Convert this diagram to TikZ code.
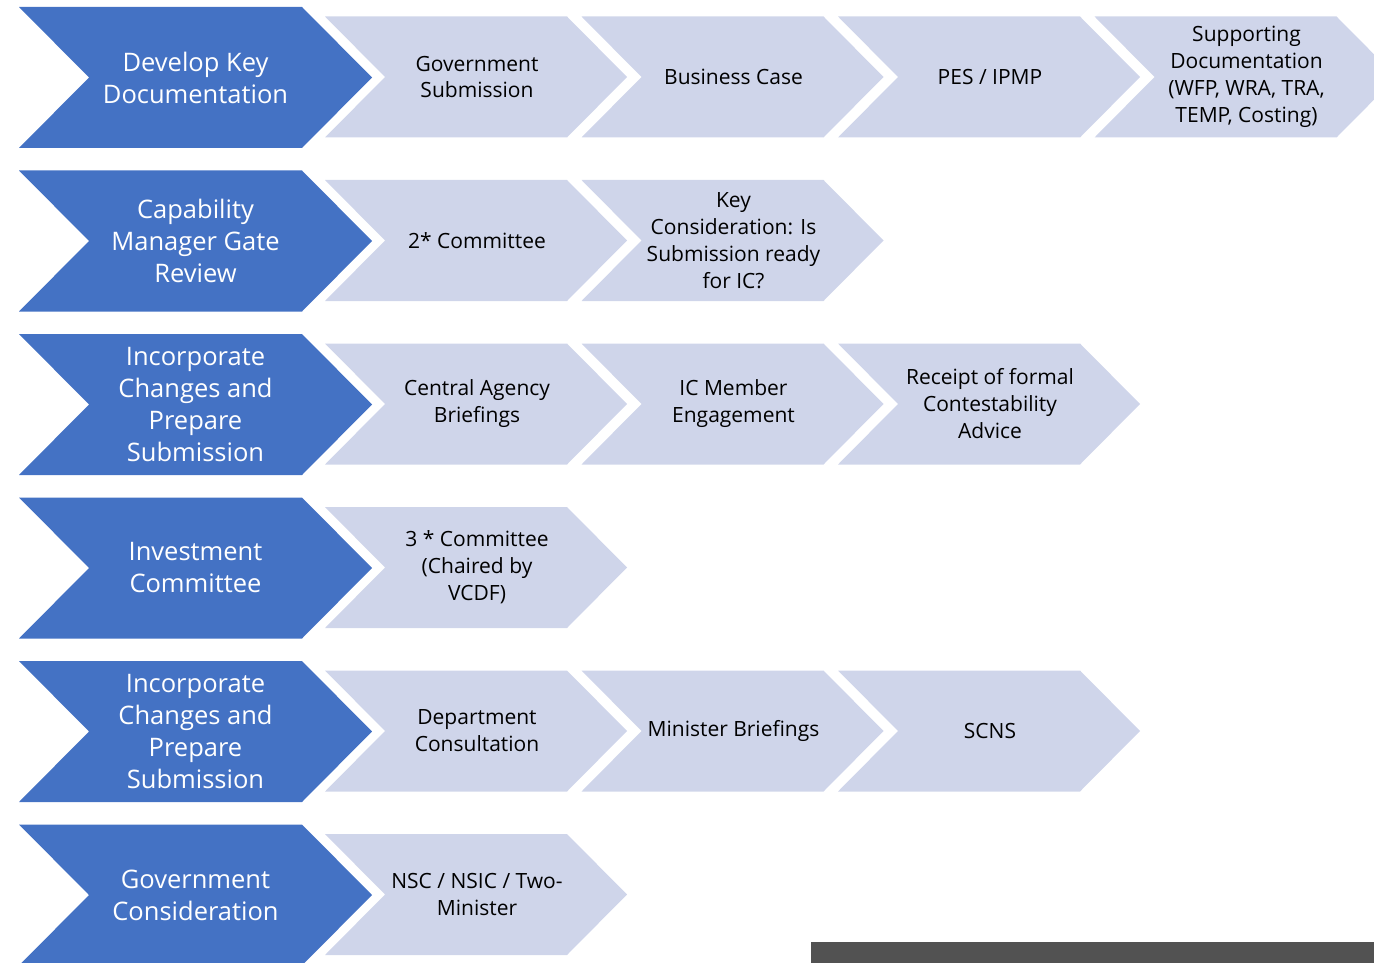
\documentclass[tikz,border=0pt]{standalone}
\usepackage{fontspec}
\setmainfont{Open Sans}
\definecolor{chevblue}{HTML}{4472C4}
\definecolor{chevlight}{HTML}{CFD5EA}
\definecolor{bargray}{HTML}{525252}
\tikzset{
  bluefill/.style={fill=chevblue},
  lightfill/.style={fill=chevlight},
  bluetext/.style={text=white, align=center, font=\fontsize{25.5}{32}\selectfont, inner sep=0pt},
  lighttext/.style={text=black, align=center, font=\fontsize{21}{27}\selectfont, inner sep=0pt},
}
\newcommand\bluechev[3]{%
  \fill[bluefill] (19,#1) -- (302,#1) -- (372,{#1+70.5}) -- (302,{#1+141}) -- (19,{#1+141}) -- (89,{#1+70.5}) -- cycle;
  \node[bluetext] (#2) at (195.5,{#1+70.5}) {#3};}
\newcommand\lightchev[4]{%
  \fill[lightfill] (#1,#2) -- ({#1+242},#2) -- ({#1+302},{#2+60.5}) -- ({#1+242},{#2+121}) -- (#1,{#2+121}) -- ({#1+60},{#2+60.5}) -- cycle;
  \node[lighttext] (#3) at ({#1+152},{#2+60.5}) {#4};}
\begin{document}
\begin{tikzpicture}[x=1pt,y=-1pt]
\useasboundingbox (0,0) rectangle (1374,963);
\clip (0,0) rectangle (1374,963);
% Row 1
\bluechev{7}{b1}{Develop Key\\Documentation}
\lightchev{325}{16.5}{l11}{Government\\Submission}
\lightchev{581.5}{16.5}{l12}{Business Case}
\lightchev{838}{16.5}{l13}{PES / IPMP}
\lightchev{1094.5}{16.5}{l14}{Supporting\\Documentation\\(WFP, WRA, TRA,\\TEMP, Costing)}
% Row 2
\bluechev{170.5}{b2}{Capability\\Manager Gate\\Review}
\lightchev{325}{180}{l21}{2* Committee}
\lightchev{581.5}{180}{l22}{Key\\Consideration: Is\\Submission ready\\for IC?}
% Row 3
\bluechev{334}{b3}{Incorporate\\Changes and\\Prepare\\Submission}
\lightchev{325}{343.5}{l31}{Central Agency\\Briefings}
\lightchev{581.5}{343.5}{l32}{IC Member\\Engagement}
\lightchev{838}{343.5}{l33}{Receipt of formal\\Contestability\\Advice}
% Row 4
\bluechev{497.5}{b4}{Investment\\Committee}
\lightchev{325}{507}{l41}{3 * Committee\\(Chaired by\\VCDF)}
% Row 5
\bluechev{661}{b5}{Incorporate\\Changes and\\Prepare\\Submission}
\lightchev{325}{670.5}{l51}{Department\\Consultation}
\lightchev{581.5}{670.5}{l52}{Minister Briefings}
\lightchev{838}{670.5}{l53}{SCNS}
% Row 6
\bluechev{824.5}{b6}{Government\\Consideration}
\lightchev{325}{834}{l61}{NSC / NSIC / Two-\\Minister}
% Bottom bar
\fill[bargray] (811,942) rectangle (1374,963);
\end{tikzpicture}
\end{document}
